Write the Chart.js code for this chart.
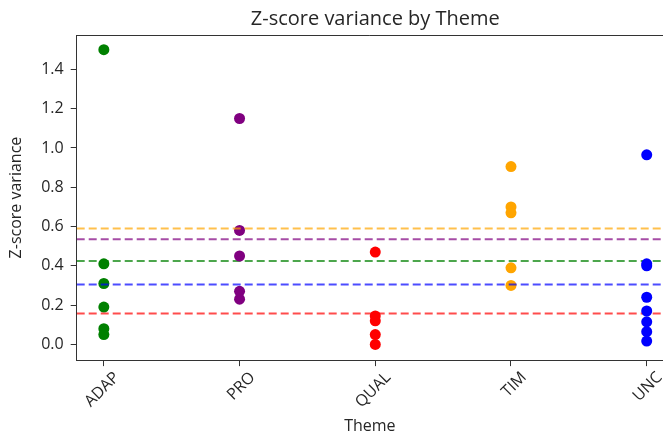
<!DOCTYPE html>
<html>
<head>
<meta charset="utf-8">
<script src="https://cdn.jsdelivr.net/npm/chart.js@4"></script>
<style>
    html, body { margin: 0; padding: 0; background: #fff; }
    #wrap { width: 663px; height: 436px; }
</style>
</head>
<body>
<div id="wrap"><canvas id="chart" width="663" height="436"></canvas></div>
<script>
// themes along the x axis (index = x position)
const themes = ['ADAP', 'PRO', 'QUAL', 'TIM', 'UNC'];
const colors = ['#008000', '#800080', '#ff0000', '#ffa500', '#0000ff'];

// z-score variance values per theme
const adapValues = [1.50, 0.41, 0.31, 0.19, 0.08, 0.05];
const proValues = [1.15, 0.58, 0.45, 0.27, 0.23];
const qualValues = [0.47, 0.145, 0.12, 0.05, 0.0];
const timValues = [0.905, 0.70, 0.67, 0.39, 0.30];
const uncValues = [0.965, 0.41, 0.40, 0.24, 0.17, 0.115, 0.065, 0.017];

// mean lines (dashed)
const meanValues = [0.425, 0.535, 0.157, 0.59, 0.305];

const yTicks = [0, 0.2, 0.4, 0.6, 0.8, 1.0, 1.2, 1.4];
const xMin = -0.2, xMax = 4.12;
const titleText = 'Z-score variance by Theme';

const allValues = [adapValues, proValues, qualValues, timValues, uncValues];

const fontFamily = '"Open Sans", "DejaVu Sans", sans-serif';
const textColor = '#262626';

const datasets = [];
allValues.forEach((vals, i) => {
    datasets.push({
        type: 'scatter',
        label: themes[i],
        data: vals.map(v => ({ x: i, y: v })),
        backgroundColor: colors[i],
        borderColor: colors[i],
        pointRadius: 5.5,
        pointBorderWidth: 0,
        order: 20 - i * 2
    });
    datasets.push({
        type: 'line',
        label: themes[i] + ' mean',
        data: [{ x: xMin, y: meanValues[i] }, { x: xMax, y: meanValues[i] }],
        borderColor: colors[i] + 'b3',
        borderWidth: 2,
        borderDash: [8, 4],
        pointRadius: 0,
        fill: false,
        order: 19 - i * 2
    });
});

// top spine + title centred over the full axes (x = -0.2 .. 4.2)
const axesDecor = {
    id: 'axesDecor',
    afterDraw(chart) {
        const { ctx, chartArea, scales } = chart;
        ctx.save();
        ctx.strokeStyle = '#333';
        ctx.lineWidth = 1;
        ctx.beginPath();
        ctx.moveTo(chartArea.left, chartArea.top + 0.5);
        ctx.lineTo(chartArea.right, chartArea.top + 0.5);
        ctx.stroke();

        ctx.fillStyle = textColor;
        ctx.font = '20px ' + fontFamily;
        ctx.textAlign = 'center';
        ctx.textBaseline = 'middle';
        ctx.fillText(titleText, scales.x.getPixelForValue(2), chartArea.top - 16);
        ctx.restore();
    }
};

new Chart(document.getElementById('chart'), {
    data: { datasets },
    options: {
        responsive: false,
        animation: false,
        layout: { autoPadding: false, padding: { left: 7, right: 0, top: 35, bottom: 0 } },
        plugins: {
            legend: { display: false },
            tooltip: { enabled: false },
            title: { display: false }
        },
        scales: {
            x: {
                type: 'linear',
                min: xMin,
                max: xMax,
                afterBuildTicks: (scale) => {
                    scale.ticks = themes.map((t, i) => ({ value: i }));
                },
                // the axes run past the right edge of the picture
                afterFit: (scale) => {
                    scale.paddingRight = 0;
                },
                ticks: {
                    callback: (v) => themes[v],
                    color: textColor,
                    font: { family: fontFamily, size: 16 },
                    minRotation: 45,
                    maxRotation: 45,
                    labelOffset: 13,
                    padding: 2
                },
                grid: { drawOnChartArea: false, drawTicks: true, tickLength: 6, color: '#333' },
                border: { display: true, color: '#333', width: 1 },
                title: {
                    display: true,
                    text: 'Theme',
                    color: textColor,
                    font: { family: fontFamily, size: 16 },
                    padding: { top: 3, bottom: 0 }
                }
            },
            y: {
                min: -0.08,
                max: 1.575,
                afterBuildTicks: (scale) => {
                    scale.ticks = yTicks.map(v => ({ value: v }));
                },
                ticks: {
                    callback: (v) => v.toFixed(1),
                    color: textColor,
                    font: { family: fontFamily, size: 16 },
                    padding: 7
                },
                grid: { drawOnChartArea: false, drawTicks: true, tickLength: 6, color: '#333' },
                border: { display: true, color: '#333', width: 1 },
                title: {
                    display: true,
                    text: 'Z-score variance',
                    color: textColor,
                    font: { family: fontFamily, size: 16 },
                    padding: { top: 0, bottom: 8 }
                }
            }
        }
    },
    plugins: [axesDecor]
});
</script>
</body>
</html>
